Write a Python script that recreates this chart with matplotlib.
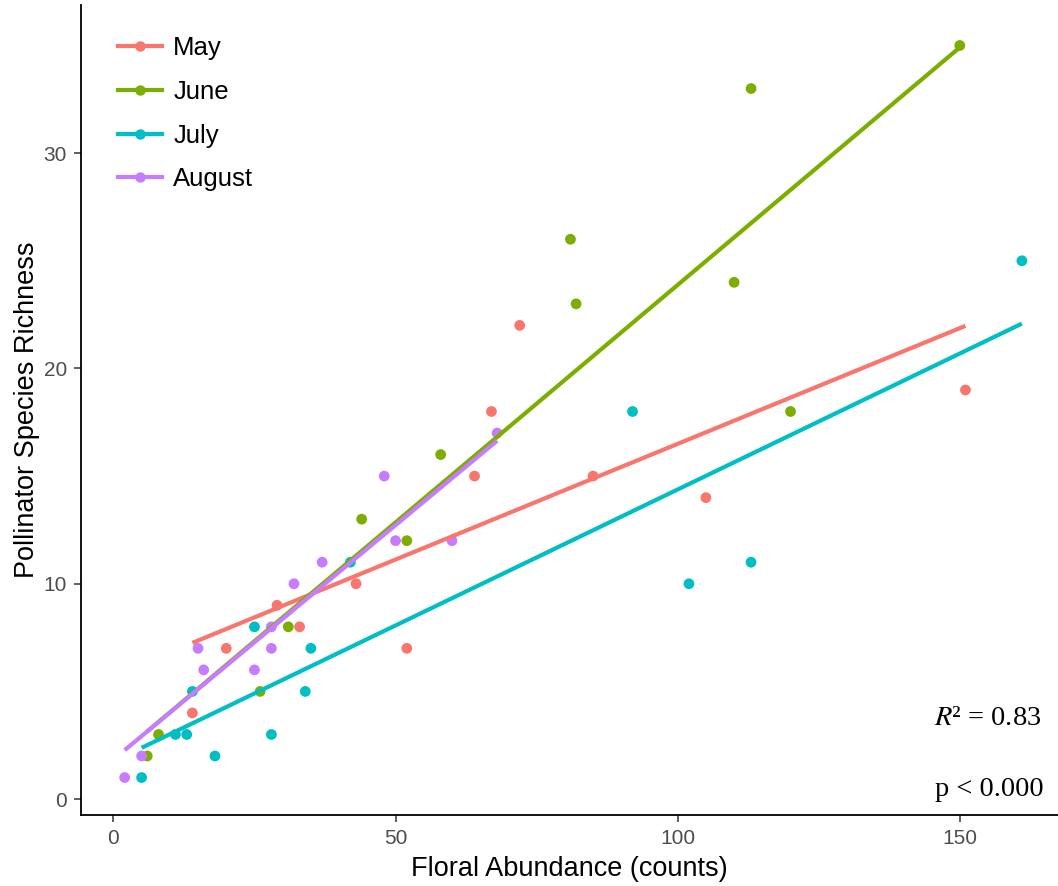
import numpy as np
import matplotlib
matplotlib.use('Agg')
import matplotlib.pyplot as plt
from matplotlib.lines import Line2D

# data (floral counts vs species richness, per month)
months = ["May", "June", "July", "August"]
colors = ["#F8766D", "#7CAE00", "#00BFC4", "#C77CFF"]

may_x = [14, 20, 29, 33, 43, 52, 64, 67, 72, 85, 105, 151]
may_y = [4, 7, 9, 8, 10, 7, 15, 18, 22, 15, 14, 19]

june_x = [6, 8, 26, 31, 44, 52, 58, 81, 82, 110, 113, 120, 150]
june_y = [2, 3, 5, 8, 13, 12, 16, 26, 23, 24, 33, 18, 35]

july_x = [5, 11, 13, 14, 18, 25, 28, 34, 35, 42, 92, 102, 113, 161]
july_y = [1, 3, 3, 5, 2, 8, 3, 5, 7, 11, 18, 10, 11, 25]

aug_x = [2, 5, 15, 16, 25, 28, 28, 32, 37, 48, 50, 60, 68]
aug_y = [1, 2, 7, 6, 6, 7, 8, 10, 11, 15, 12, 12, 17]

xs = [may_x, june_x, july_x, aug_x]
ys = [may_y, june_y, july_y, aug_y]

r2_label = "$R$\u00b2 = 0.83"
p_label = "p < 0.000"

plt.rcParams['font.family'] = ['Liberation Sans', 'DejaVu Sans']
plt.rcParams['mathtext.fontset'] = 'stix'

W, H = 1058, 886
fig = plt.figure(figsize=(W / 100, H / 100), dpi=100)
ax = fig.add_axes([81 / W, (H - 815) / H, 1 - 81 / W, (815 - 5) / H])

# points first, fitted lines on top (like ggplot geom_point + geom_smooth)
for x, y, c in zip(xs, ys, colors):
    ax.scatter(x, y, s=60, color=c, edgecolors='none', zorder=2)

for x, y, c in zip(xs, ys, colors):
    x = np.array(x, dtype=float)
    slope, icpt = np.polyfit(x, y, 1)
    xx = np.array([x.min(), x.max()])
    ax.plot(xx, icpt + slope * xx, color=c, lw=3.0, solid_capstyle='butt', zorder=3)

ax.set_xlim(-5.74, 167.4)
ax.set_ylim(-0.74, 36.88)
ax.set_xticks([0, 50, 100, 150])
ax.set_yticks([0, 10, 20, 30])

ax.spines['top'].set_visible(False)
ax.spines['right'].set_visible(False)
for s in ['left', 'bottom']:
    ax.spines[s].set_linewidth(1.3)
    ax.spines[s].set_color('black')
ax.tick_params(axis='both', length=5, width=1.1, color='#333333',
               labelcolor='#4D4D4D', labelsize=15, pad=5)

ax.set_xlabel("Floral Abundance (counts)", fontsize=19.5, labelpad=6)
ax.set_ylabel("Pollinator Species Richness", fontsize=19.5, labelpad=3)

handles = [Line2D([0], [0], color=c, lw=3.0, marker='o', markersize=6.5) for c in colors]
leg = ax.legend(handles, months, loc='upper left', bbox_to_anchor=(118 / W, 1 - 36 / H),
                bbox_transform=fig.transFigure, frameon=False, fontsize=18.5,
                handlelength=1.7, handletextpad=0.45, labelspacing=0.77,
                borderpad=0, borderaxespad=0)

ax.text(155, 3.45, r2_label, ha='center', va='baseline', fontsize=20.5,
        family='Liberation Serif')
ax.text(155.3, 0.14, p_label, ha='center', va='baseline', fontsize=20.5,
        family='Liberation Serif')

fig.savefig('out.png', dpi=100)
